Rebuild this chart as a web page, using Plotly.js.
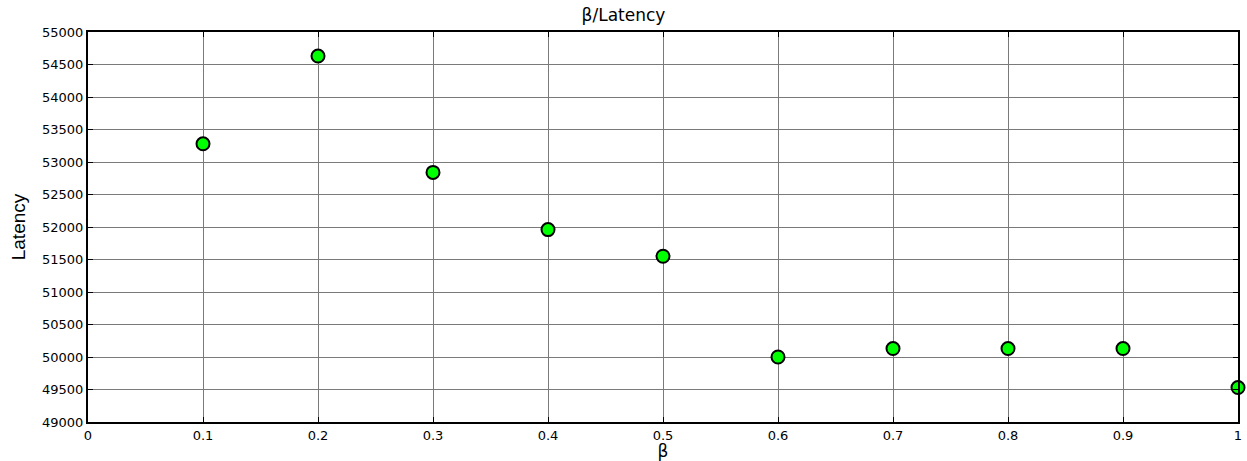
<!DOCTYPE html>
<html><head><meta charset="utf-8">
<script src="https://cdn.plot.ly/plotly-3.0.1.min.js"></script>
<style>html,body{margin:0;padding:0;background:#fff}#chart{width:1247px;height:461px}</style>
</head><body><div id="chart"></div>
<script>
const beta = [0.1, 0.2, 0.3, 0.4, 0.5, 0.6, 0.7, 0.8, 0.9, 1.0];
const latency = [53280, 54630, 52840, 51960, 51550, 50000, 50130, 50130, 50130, 49530];
const xTicks = [0, 0.1, 0.2, 0.3, 0.4, 0.5, 0.6, 0.7, 0.8, 0.9, 1];
const xTickText = ['0', '0.1', '0.2', '0.3', '0.4', '0.5', '0.6', '0.7', '0.8', '0.9', '1'];
const yTicks = [49000, 49500, 50000, 50500, 51000, 51500, 52000, 52500, 53000, 53500, 54000, 54500, 55000];
const yTickText = ['49000', '49500', '50000', '50500', '51000', '51500', '52000', '52500', '53000', '53500', '54000', '54500', '55000'];

const tickFont = 'DejaVu Sans, Liberation Sans, Arial, sans-serif';
const labelFont = 'Liberation Sans Narrow, Liberation Sans, Arial, sans-serif';
Plotly.newPlot('chart', [{
  x: beta, y: latency, type: 'scatter', mode: 'markers',
  marker: {symbol: 'circle', size: 13, color: '#00ff00', line: {color: '#000', width: 2}},
  cliponaxis: false, hoverinfo: 'none'
}], {
  width: 1247, height: 461,
  margin: {l: 88, r: 9, t: 32, b: 39},
  paper_bgcolor: '#fff', plot_bgcolor: '#fff',
  showlegend: false,
  title: {text: 'β/Latency', font: {family: tickFont, size: 17, color: '#000'}, x: 0.5, xanchor: 'center', y: 0.968, yanchor: 'middle'},
  xaxis: {
    range: [0, 1], tickvals: xTicks, ticktext: xTickText,
    showgrid: true, gridcolor: '#7a7a7a', gridwidth: 1,
    zeroline: false, showline: true, linecolor: '#000', linewidth: 2, mirror: 'ticks',
    ticks: 'inside', ticklen: 5, tickcolor: '#000',
    tickfont: {family: tickFont, size: 13, color: '#000'},
    title: {text: 'β', font: {family: tickFont, size: 17, color: '#000'}, standoff: 0}
  },
  yaxis: {
    range: [49000, 55000], tickvals: yTicks, ticktext: yTickText,
    showgrid: true, gridcolor: '#7a7a7a', gridwidth: 1,
    zeroline: false, showline: true, linecolor: '#000', linewidth: 2, mirror: 'ticks',
    ticks: 'inside', ticklen: 5, tickcolor: '#000',
    tickfont: {family: tickFont, size: 13, color: '#000'},
    title: {text: 'Latency', font: {family: labelFont, size: 19, color: '#000'}, standoff: 11}
  }
}, {staticPlot: true});
</script></body></html>
